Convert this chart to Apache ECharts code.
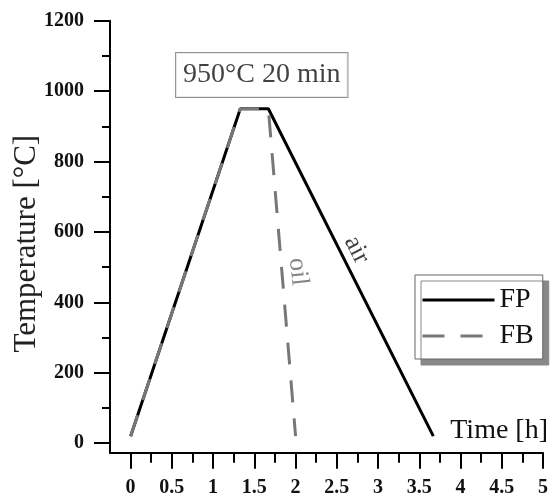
<!DOCTYPE html>
<html><head><meta charset="utf-8">
<script src="https://cdn.jsdelivr.net/npm/echarts@6/dist/echarts.min.js"></script>
<style>html,body{margin:0;padding:0;background:#fff}#c{width:554px;height:497px}</style>
</head><body><div id="c"></div>
<script>
// ---- data ----
const seriesNames = ['FP', 'FB'];
const fpTime = [0, 1.33, 1.67, 3.67];
const fpTemp = [20, 950, 950, 20];
const fbTime = [0, 1.33, 1.67, 2.0];
const fbTemp = [20, 950, 950, 20];
const xMajorTicks = [0, 0.5, 1, 1.5, 2, 2.5, 3, 3.5, 4, 4.5, 5];
const xMinorTicks = [0.25, 0.75, 1.25, 1.75, 2.25, 2.75, 3.25, 3.75, 4.25, 4.75];
const yMajorTicks = [0, 200, 400, 600, 800, 1000, 1200];
const yMinorTicks = [100, 300, 500, 700, 900, 1100];
const xTitle = 'Time [h]';
const yTitle = 'Temperature [°C]';
const noteText = '950°C 20 min';
const noteAt = [1.59, 1046];
const airText = 'air';
const airAt = [2.74, 549];
const oilText = 'oil';
const oilAt = [2.03, 487];

const SERIF = 'Liberation Serif';
const pairs = (xs, ys) => xs.map((x, i) => [x, ys[i]]);

const chart = echarts.init(document.getElementById('c'), null, {renderer: 'canvas'});

const axisCommonX = {type: 'value', min: -0.25, max: 5, splitLine: {show: false}};
const axisCommonY = {type: 'value', min: -27, max: 1200, splitLine: {show: false}};

chart.setOption({
  animation: false,
  backgroundColor: '#fff',
  grid: {left: 110, right: 11, top: 20.7, bottom: 44.3, containLabel: false, outerBoundsMode: 'none'},
  xAxis: [
    Object.assign({}, axisCommonX, {
      position: 'bottom',
      name: xTitle,
      nameLocation: 'end',
      nameGap: 5,
      nameMoveOverlap: false,
      nameTextStyle: {fontFamily: SERIF, fontSize: 28, color: '#111', align: 'right', verticalAlign: 'bottom', padding: [0, 0, 8, 0]},
      axisLine: {show: true, onZero: false, lineStyle: {color: '#000', width: 2}},
      axisTick: {show: true, length: 16, lineStyle: {color: '#000', width: 2}, customValues: xMajorTicks},
      axisLabel: {show: true, margin: 25, customValues: xMajorTicks, fontFamily: SERIF, fontWeight: 'bold', fontSize: 20, color: '#111', formatter: v => String(v)}
    }),
    Object.assign({}, axisCommonX, {
      position: 'bottom',
      axisLine: {show: false, onZero: false},
      axisTick: {show: true, length: 10, lineStyle: {color: '#000', width: 2}, customValues: xMinorTicks},
      axisLabel: {show: false}
    })
  ],
  yAxis: [
    Object.assign({}, axisCommonY, {
      position: 'left',
      name: yTitle,
      nameLocation: 'middle',
      nameRotate: 90,
      nameGap: 68,
      nameMoveOverlap: false,
      nameTextStyle: {fontFamily: SERIF, fontSize: 31, color: '#222', padding: [0, 14, 0, 0]},
      axisLine: {show: true, onZero: false, lineStyle: {color: '#000', width: 2}},
      axisTick: {show: true, length: 16, lineStyle: {color: '#000', width: 2}, customValues: yMajorTicks},
      axisLabel: {show: true, margin: 26, customValues: yMajorTicks, fontFamily: SERIF, fontWeight: 'bold', fontSize: 20, color: '#111', formatter: v => String(v)}
    }),
    Object.assign({}, axisCommonY, {
      position: 'left',
      axisLine: {show: false, onZero: false},
      axisTick: {show: true, length: 8, lineStyle: {color: '#000', width: 2}, customValues: yMinorTicks},
      axisLabel: {show: false}
    })
  ],
  legend: {
    data: seriesNames,
    orient: 'vertical',
    left: 415, top: 275,
    itemWidth: 72, itemHeight: 14, itemGap: 8,
    padding: [11, 9, 9, 6],
    backgroundColor: '#fff',
    borderColor: '#666', borderWidth: 1,
    shadowColor: '#888', shadowOffsetX: 6, shadowOffsetY: 6, shadowBlur: 0,
    selectedMode: false,
    lineStyle: {width: 3},
    itemStyle: {color: 'rgba(0,0,0,0)', borderColor: 'rgba(0,0,0,0)', borderWidth: 0, opacity: 0},
    textStyle: {fontFamily: SERIF, fontSize: 28, color: '#111', lineHeight: 28}
  },
  series: [
    {
      name: seriesNames[0], type: 'line', xAxisIndex: 0, yAxisIndex: 0,
      data: pairs(fpTime, fpTemp), symbol: 'none', showSymbol: false,
      lineStyle: {color: '#000', width: 3}, itemStyle: {color: '#000'}, z: 2
    },
    {
      name: seriesNames[1], type: 'line', xAxisIndex: 0, yAxisIndex: 0,
      data: pairs(fbTime, fbTemp), symbol: 'none', showSymbol: false,
      lineStyle: {color: '#777', width: 3, type: [22, 16]}, itemStyle: {color: '#777'}, z: 3
    },
    {
      name: 'notes', type: 'scatter', xAxisIndex: 0, yAxisIndex: 0,
      symbolSize: 0, silent: true, z: 5,
      label: {show: true, position: 'inside', fontFamily: SERIF},
      data: [
        {value: noteAt, label: {formatter: noteText, fontSize: 28, lineHeight: 28, color: '#111', backgroundColor: '#fff', borderColor: '#777', borderWidth: 1, padding: [8, 7, 8, 7]}},
        {value: airAt, label: {formatter: airText, fontSize: 26, color: '#111', rotate: -63}},
        {value: oilAt, label: {formatter: oilText, fontSize: 26, color: '#666', rotate: -84}}
      ]
    }
  ]
});
</script>
</body></html>
